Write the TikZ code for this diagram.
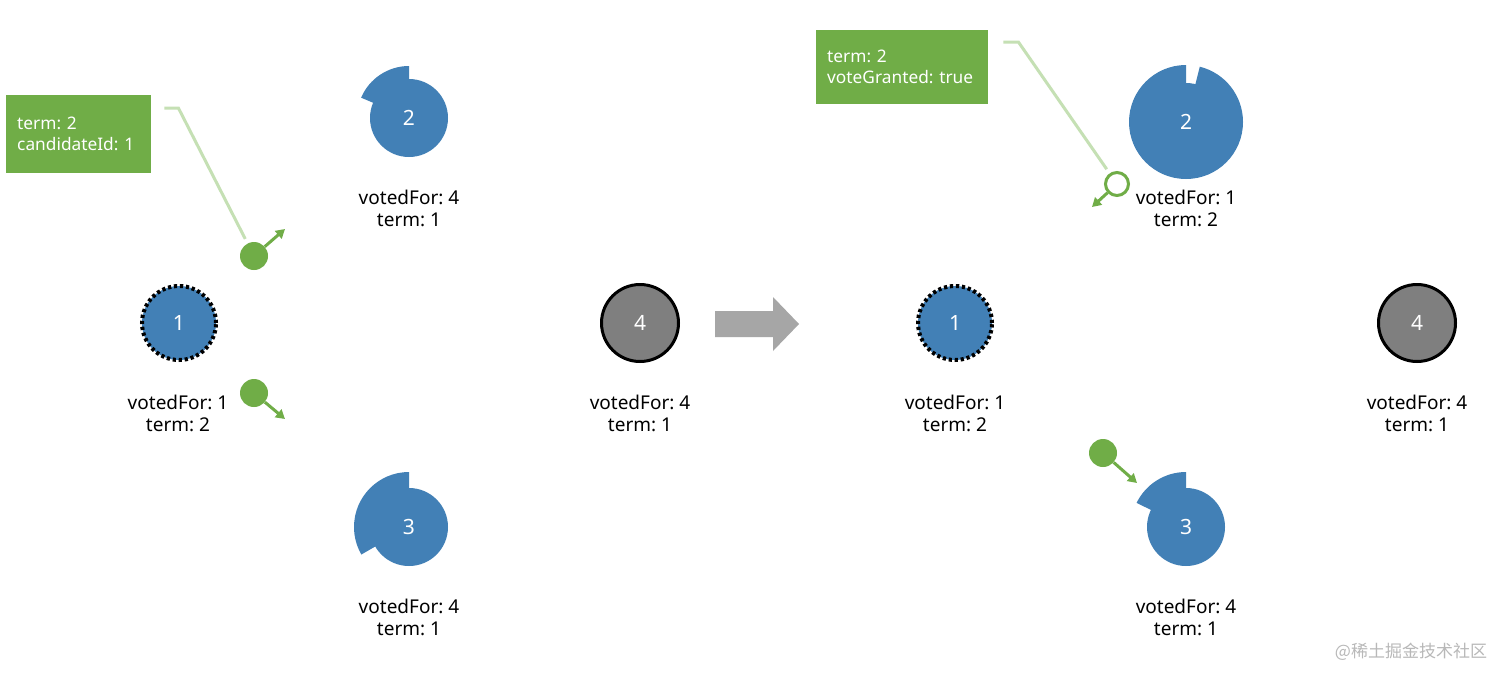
\documentclass[tikz,border=0pt]{standalone}
\usepackage{fontspec}
\setmainfont{Noto Sans}
\newfontfamily\cjkfont{Noto Sans CJK SC}
\usepackage{tikz}
\usetikzlibrary{arrows.meta,backgrounds}
\frenchspacing
\definecolor{rfblue}{HTML}{4280B6}
\definecolor{rfgreen}{HTML}{70AD47}
\definecolor{rflead}{HTML}{C5E0B4}
\definecolor{rfdown}{HTML}{7F7F7F}
\definecolor{rfarrow}{HTML}{A6A6A6}
\definecolor{rfmark}{HTML}{B8B8B8}
\tikzset{
  srv/.style={circle,fill=rfblue,minimum size=78pt,inner sep=0pt,text=white,
              font=\fontsize{21}{24}\selectfont},
  cand/.style={srv,draw=black,line width=4pt,dash pattern=on 3.2pt off 2.8pt,minimum size=74pt},
  dead/.style={srv,fill=rfdown,draw=black,line width=3pt,minimum size=77pt},
  vars/.style={align=center,font=\fontsize{19}{22}\selectfont,text=black,inner sep=0pt},
  rpc/.style={fill=rfgreen,text=white,align=left,anchor=north west,inner xsep=11pt,inner ysep=0pt,
              font=\fontsize{17.3}{21}\selectfont},
  leader/.style={draw=rflead,line width=3pt,shorten >=5pt},
  sent/.style={circle,fill=rfgreen,minimum size=28pt,inner sep=0pt},
  reply/.style={circle,draw=rfgreen,line width=3pt,fill=white,minimum size=23pt,inner sep=0pt},
  fly/.style={-{Triangle[length=9pt,width=10pt]},draw=rfgreen,line width=3pt},
}

\begin{document}
\begin{tikzpicture}[x=1pt,y=1pt]
  \useasboundingbox (0,0) rectangle (1512,-683);

  % ---- before: node 1 asks for votes ----
  \node[cand] (l1) at (179,-323) {1};
  \node[srv] (l2) at (409,-118) {2};
  \node[srv] (l3) at (409,-527) {3};
  \node[dead] (l4) at (640,-323) {4};
  \node[vars] (l1v) at (178,-413) {votedFor: 1\\term: 2};
  \node[vars] (l2v) at (409,-208) {votedFor: 4\\term: 1};
  \node[vars] (l3v) at (409,-617) {votedFor: 4\\term: 1};
  \node[vars] (l4v) at (640,-413) {votedFor: 4\\term: 1};

  % ---- after: node 2 grants its vote ----
  \node[cand] (r1) at (955,-323) {1};
  \node[srv] (r2) at (1186,-122) {2};
  \node[srv] (r3) at (1186,-527) {3};
  \node[dead] (r4) at (1417,-323) {4};
  \node[vars] (r1v) at (955,-413) {votedFor: 1\\term: 2};
  \node[vars] (r2v) at (1186,-208) {votedFor: 1\\term: 2};
  \node[vars] (r3v) at (1186,-617) {votedFor: 4\\term: 1};
  \node[vars] (r4v) at (1417,-413) {votedFor: 4\\term: 1};

  % ---- election timers ----
  \begin{scope}[on background layer]
    \fill[white] (0,0) rectangle (1512,-683);
    \fill[rfblue] (l2.center) -- ++(90:52) arc[start angle=90,end angle=157,radius=52] -- cycle;
    \fill[rfblue] (l3.center) -- ++(90:55) arc[start angle=90,end angle=210,radius=55] -- cycle;
    \fill[rfblue] (r2.center) -- ++(90:57) arc[start angle=90,end angle=436,radius=57] -- cycle;
    \fill[rfblue] (r3.center) -- ++(90:55) arc[start angle=90,end angle=154,radius=55] -- cycle;
  \end{scope}

  % ---- messages ----
  \node[rpc,text width=123pt,minimum height=78pt] (req) at (6,-95) {term: 2\\candidateId: 1};
  \node[rpc,text width=150pt,minimum height=74pt] (ack) at (816,-30) {term: 2\\voteGranted: true};
  \node[sent] (d1) at (254,-256) {};
  \node[sent] (d2) at (254,-393) {};
  \node[reply] (d3) at (1117,-184) {};
  \node[sent] (d4) at (1103,-453) {};
  \coordinate (d1tip) at (285,-229);
  \coordinate (d2tip) at (285,-419);
  \coordinate (d3tip) at (1092,-207);
  \coordinate (d4tip) at (1137,-483);
  \draw[fly] (d1) -- (d1tip);
  \draw[fly] (d2) -- (d2tip);
  \draw[fly] (d3) -- (d3tip);
  \draw[fly] (d4) -- (d4tip);
  \draw[leader] ([shift={(13,-13)}]req.north east) -- ++(14,0) -- (d1);
  \draw[leader] ([shift={(15,-12)}]ack.north east) -- ++(15,0) -- (d3);

  % ---- step arrow ----
  \fill[rfarrow] (715,-311) -- (773,-311) -- (773,-297) -- (799,-324) -- (773,-351)
    -- (773,-337) -- (715,-337) -- cycle;

  \node[font=\cjkfont\fontsize{17}{20}\selectfont,text=rfmark] (mark) at (1411,-652) {@稀土掘金技术社区};
\end{tikzpicture}
\end{document}
